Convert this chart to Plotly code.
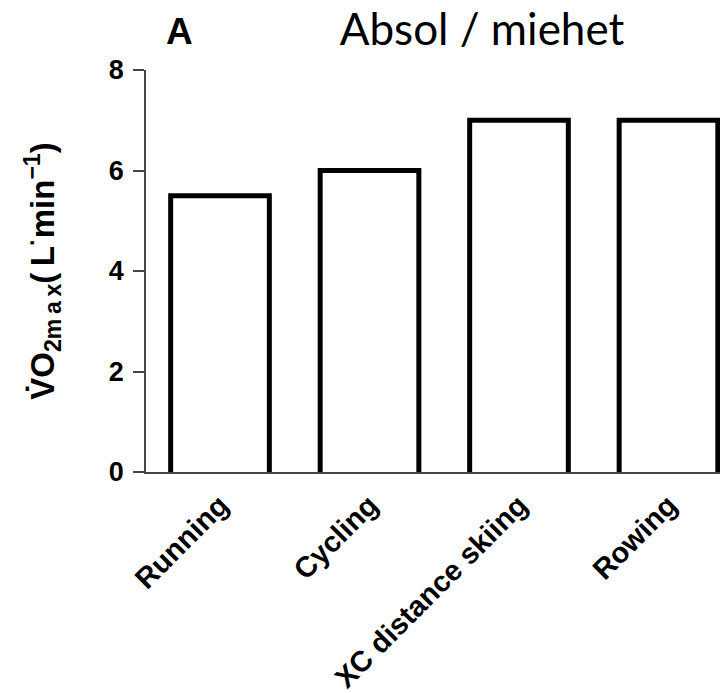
import plotly.graph_objects as go

categories = ["Running", "Cycling", "XC distance skiing", "Rowing"]
vo2max = [5.5, 6.0, 7.0, 7.0]
y_ticks = [0, 2, 4, 6, 8]

bar_w = 0.66
positions = list(range(len(categories)))

fig = go.Figure()
fig.add_trace(go.Bar(x=positions, y=vo2max, width=bar_w,
                     marker=dict(color="white", line=dict(width=0)),
                     showlegend=False))
# open outline (no bottom edge) for each bar, derived from the data
ox, oy = [], []
for p, v in zip(positions, vo2max):
    ox += [p - bar_w / 2, p - bar_w / 2, p + bar_w / 2, p + bar_w / 2, None]
    oy += [0, v, v, 0, None]
fig.add_trace(go.Scatter(x=ox, y=oy, mode="lines",
                         line=dict(color="black", width=5),
                         showlegend=False, hoverinfo="skip"))

font_b = "Liberation Sans, Arial, sans-serif"
W, H = 728, 693
L, R, T, B = 138, 8, 62, 229
PW, PH = W - L - R, H - T - B

fig.update_layout(
    width=W, height=H,
    margin=dict(l=L, r=R, t=T, b=B),
    plot_bgcolor="white", paper_bgcolor="white",
    title=dict(text="Absol / miehet", x=474 / W, xanchor="center",
               y=1 - 22 / H, yanchor="middle",
               font=dict(family="Lato, Carlito, sans-serif", size=44, color="black")),
    annotations=[dict(text="A", xref="paper", yref="paper",
                      x=(171 - L) / PW, y=1 + (T - 23) / PH, xanchor="center", yanchor="middle",
                      showarrow=False,
                      font=dict(family=font_b, size=37, color="black", weight="bold"))],
    xaxis=dict(range=[-0.495, 3.398], tickvals=positions, ticktext=categories,
               tickangle=-45, showline=True, linecolor="#444", linewidth=1.5,
               ticks="", showgrid=False, zeroline=False, ticklabelstandoff=3,
               tickfont=dict(family=font_b, size=29, color="black", weight="bold")),
    yaxis=dict(range=[0, 8], tickvals=y_ticks, showline=True, linecolor="#444", linewidth=1.5,
               ticks="outside", ticklen=11, tickwidth=1.5, tickcolor="#444",
               showgrid=False, zeroline=False, ticklabelstandoff=4,
               tickfont=dict(family=font_b, size=27, color="black", weight="bold"),
               title=dict(text="V\u0307O<sub>2m\u2009a\u2009x</sub>(\u2009L<sup>\u00b7</sup>min<sup>\u22121</sup>)",
                          standoff=44,
                          font=dict(family=font_b, size=33, color="black", weight="bold"))),
)

fig.write_html("out.html")
